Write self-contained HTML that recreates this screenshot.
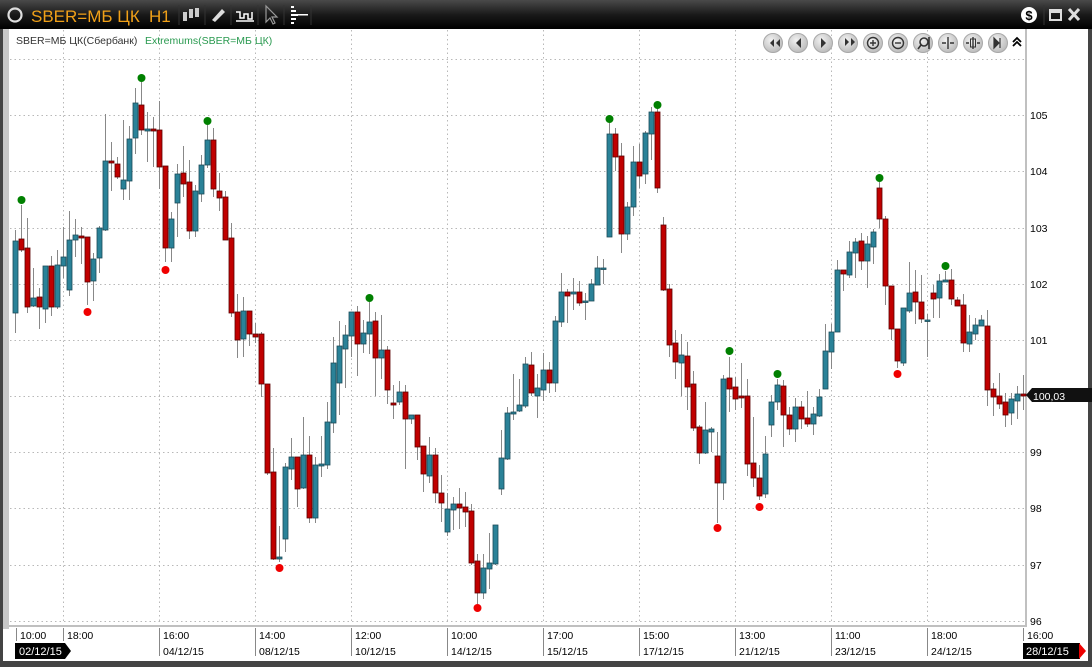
<!DOCTYPE html>
<html><head><meta charset="utf-8"><style>
html,body{margin:0;padding:0;width:1092px;height:667px;overflow:hidden;background:#3a3a3a;}
svg{display:block}
text{font-family:"Liberation Sans","DejaVu Sans",sans-serif;}
</style></head><body>
<svg id="s" width="1092" height="667" xmlns="http://www.w3.org/2000/svg">
<defs>
<linearGradient id="tb" x1="0" y1="0" x2="0" y2="1"><stop offset="0" stop-color="#4a4a4a"/><stop offset="0.5" stop-color="#1a1a1a"/><stop offset="1" stop-color="#000"/></linearGradient>
<radialGradient id="bt" cx="0.4" cy="0.35" r="0.7"><stop offset="0" stop-color="#f2f2f2"/><stop offset="1" stop-color="#b8b8b8"/></radialGradient>
</defs>
<rect x="0" y="0" width="1092" height="667" fill="#444"/>
<rect x="0" y="0" width="1092" height="29" fill="url(#tb)"/>
<circle cx="15" cy="15" r="6.5" fill="none" stroke="#ddd" stroke-width="2.2"/>
<text x="31" y="22" font-size="17" fill="#f0a018">SBER=МБ ЦК</text>
<text x="149" y="22" font-size="17" fill="#f0a018">H1</text>
<g stroke="#333" stroke-width="1"><line x1="179" y1="5" x2="179" y2="25"/><line x1="205" y1="5" x2="205" y2="25"/><line x1="231" y1="5" x2="231" y2="25"/><line x1="258" y1="5" x2="258" y2="25"/><line x1="284" y1="5" x2="284" y2="25"/><line x1="311" y1="5" x2="311" y2="25"/><line x1="1044" y1="5" x2="1044" y2="25"/></g>
<g fill="#ccc"><rect x="183" y="12" width="4" height="9"/><rect x="189" y="9" width="4" height="9"/><rect x="195" y="8" width="4" height="9"/></g>
<path d="M212 20 L222 9 L225 12 L215 22 Z" fill="#ddd"/>
<path d="M236 12 h4 v6 h4 v-4 h4 v5 h4 v-7 M236 21 h18" stroke="#fff" fill="none" stroke-width="1.5"/>
<path d="M266 6 L266 22 L270 18 L273 24 L275 23 L272 17 L277 17 Z" fill="none" stroke="#999" stroke-width="1.2"/>
<g fill="#fff"><rect x="291" y="6" width="3" height="2"/><rect x="291" y="10" width="5" height="2"/><rect x="291" y="14" width="7" height="2"/><rect x="291" y="18" width="5" height="2"/><rect x="291" y="22" width="3" height="2"/><rect x="298" y="14" width="10" height="1.5"/></g>
<circle cx="1029" cy="15" r="8" fill="#fff"/><text x="1029" y="20" font-size="13" font-weight="bold" text-anchor="middle" fill="#000">$</text>
<rect x="1050" y="10" width="11" height="10" fill="none" stroke="#ddd" stroke-width="2"/><rect x="1050" y="10" width="11" height="3" fill="#ddd"/>
<path d="M1069 9 L1079 20 M1079 9 L1069 20" stroke="#ddd" stroke-width="3"/>
<rect x="3" y="29" width="1085" height="632" fill="#fff"/>
<rect x="3" y="29" width="6" height="600" fill="#c8c8c8"/>
<rect x="1025" y="29" width="2" height="598" fill="#c0c0c0"/>
<rect x="9" y="625" width="1016" height="2" fill="#c0c0c0"/>
<g id="grid" stroke="#b8b8b8" stroke-dasharray="1.5,3" stroke-width="1"></g>
<text x="16" y="44" font-size="10.5" fill="#333">SBER=МБ ЦК(Сбербанк)</text>
<text x="145" y="44" font-size="10.5" fill="#2a9a50">Extremums(SBER=МБ ЦК)</text>
<g id="nav"></g>
<path d="M1013 42 l4 -4 l4 4 M1013 46 l4 -4 l4 4" stroke="#000" stroke-width="1.8" fill="none"/>
<g id="c"></g>
<g id="ax" font-size="10.5" fill="#000"></g>
<path d="M1026 395 l6 -7 h60 v14 h-60 z" fill="#111"/>
<text x="1033" y="400" font-size="10.5" fill="#fff">100,03</text>
<path d="M15 643 h50 l6 8 l-6 8 h-50 z" fill="#000"/>
<text x="19" y="655" font-size="11" fill="#fff">02/12/15</text>
<rect x="1023" y="643" width="57" height="16" fill="#000"/>
<path d="M1079 643 l7 8 l-7 8 z" fill="#e00"/>
<text x="1026" y="655" font-size="11" fill="#fff">28/12/15</text>
</svg>
<script>
var NS="http://www.w3.org/2000/svg";
function el(p,t,a,tx){var e=document.createElementNS(NS,t);for(var k in a)e.setAttribute(k,a[k]);if(tx!=null)e.textContent=tx;p.appendChild(e);return e;}
var g=document.getElementById("grid");
[59,115,171,228,284,340,396,452,508,565,621].forEach(function(y){el(g,"line",{x1:10,y1:y+.5,x2:1024,y2:y+.5});});
[63,159,255,351,447,543,639,735,831,927].forEach(function(x){el(g,"line",{x1:x+.5,y1:30,x2:x+.5,y2:624});});
var ax=document.getElementById("ax");
var prices=[[105,115],[104,171],[103,228],[102,284],[101,340],[99,452],[98,508],[97,565],[96,621]];
prices.forEach(function(p){el(ax,"text",{x:1030,y:p[1]+4},String(p[0]));});
var ticks=[[16,"10:00",""],[63,"18:00",""],[159,"16:00","04/12/15"],[255,"14:00","08/12/15"],[351,"12:00","10/12/15"],[447,"10:00","14/12/15"],[543,"17:00","15/12/15"],[639,"15:00","17/12/15"],[735,"13:00","21/12/15"],[831,"11:00","23/12/15"],[927,"18:00","24/12/15"],[1023,"16:00",""]];
ticks.forEach(function(t){el(ax,"line",{x1:t[0]+.5,y1:628,x2:t[0]+.5,y2:t[2]?656:641,stroke:"#888"});el(ax,"text",{x:t[0]+4,y:639},t[1]);if(t[2])el(ax,"text",{x:t[0]+4,y:655},t[2]);});
var nav=document.getElementById("nav");
[773,798,823,848,873,898,923,948,973,998].forEach(function(x){el(nav,"circle",{cx:x,cy:43,r:9.5,fill:"url(#bt)",stroke:"#a8a8a8"});});
var ic=["M770 43 l4-4v8z M776 43 l4-4v8z","M796 43 l5-5v10z","M821 38 l5 5-5 5z","M845 38 l4 4-4 4z M851 38 l4 4-4 4z"];
ic.forEach(function(d){el(nav,"path",{d:d,fill:"#333"});});
el(nav,"circle",{cx:873,cy:43,r:5.5,fill:"none",stroke:"#333","stroke-width":1.4});el(nav,"path",{d:"M870 43h6M873 40v6",stroke:"#333","stroke-width":1.4});
el(nav,"circle",{cx:898,cy:43,r:5.5,fill:"none",stroke:"#333","stroke-width":1.4});el(nav,"path",{d:"M895 43h6",stroke:"#333","stroke-width":1.4});
el(nav,"circle",{cx:924,cy:42,r:4,fill:"none",stroke:"#333","stroke-width":1.6});el(nav,"path",{d:"M921 45l-3 4M929 37v12",stroke:"#333","stroke-width":1.6});
el(nav,"path",{d:"M948 37v12M942 43h4M950 43h4",stroke:"#333","stroke-width":1.4});
el(nav,"path",{d:"M973 37v12M966 43h3M977 43h3",stroke:"#333","stroke-width":1.4});el(nav,"rect",{x:970.5,y:39,width:5,height:8,fill:"none",stroke:"#333"});
el(nav,"path",{d:"M994 38l5 5-5 5z M1000 38v10",fill:"#333",stroke:"#333","stroke-width":1.2});
var D=[
"b241 313 230 333","r239 250 205 252","r248 307 218 313","b298 306 268 307","r297 307 288 329","b266 309 266 323","r266 307 256 316","b265 307 250 309","b257 266 227 278","b240 290 211 296",
"b235 240 219 257","r236 238 227 264","r237 282 237 305","b259 281 253 301","b228 258 226 273","b161 230 114 231","r161 163 142 191","r164 177 157 179","b180 189 120 200","b139 181 126 200",
"b103 138 88 154","r105 130 82 135","b129 131 112 162","r129 131 117 167","r130 167 101 189","r166 248 166 262","b219 248 212 262","b174 203 164 237","r173 184 146 197","r182 231 160 239",
"b191 231 185 237","b165 194 155 202","b140 165 125 168","r140 189 128 197","r191 198 173 211","r197 240 191 240","r238 313 223 317","r312 340 294 358","b311 339 297 357","r311 334 311 346",
"r334 337 323 343","r334 384 332 397","r384 473 384 475","r472 559 448 560","b557 559 526 562","b467 539 463 552","b457 469 438 480","r457 489 457 507","b455 488 417 489","r455 518 436 523",
"b465 518 457 523","b464 466 436 477","b422 465 402 469","b363 423 337 433","b346 383 321 415","b335 349 325 388","b312 336 312 357","r312 344 306 376","b333 344 320 353","b322 334 302 354",
"r321 358 312 396","b350 358 315 379","r350 390 346 404","r403 405 385 419","b392 402 381 405","r392 419 385 469","b415 419 415 424","r415 447 415 460","r446 474 446 492","b455 476 437 483",
"r455 493 448 503","r493 503 475 522","b509 532 493 536","b504 510 497 530","r504 508 488 529","r507 512 492 527","r511 563 504 565","r561 593 554 604","b568 593 554 599","b563 569 533 589",
"b525 564 525 565","b458 489 430 495","b413 459 407 460","b412 414 374 420","b405 411 379 412","b364 406 357 408","r365 393 352 396","b388 396 374 418","b370 390 353 401","r370 383 362 393",
"b321 383 316 392","b292 322 273 327","r292 296 289 323","b292 294 278 310","r292 303 281 306","b301 301 293 320","b284 301 279 301","b268 285 256 285","b268 268 259 284","b134 237 123 237",
"r134 157 128 171","r156 234 143 253","b207 234 202 240","b162 207 146 216","r162 176 144 188","b133 174 131 184","b112 134 107 160","r112 188 108 193","r225 290 217 291","r289 345 284 357",
"r343 362 330 379","b355 363 334 396","r356 387 342 410","r384 428 371 431","r427 453 425 464","b430 453 402 454","b429 432 427 452","r456 483 432 523","b379 483 375 500","r378 389 357 412",
"r387 399 377 410","r396 398 363 408","r396 464 379 476","r463 478 417 487","r478 496 465 500","b454 494 436 498","b402 425 395 437","b385 402 379 410","r386 415 380 447","r415 429 407 435",
"b407 429 398 442","r407 419 401 429","r418 424 391 427","b414 424 407 435","b397 416 389 417","b351 389 324 389","b332 352 324 369","b270 332 260 332","r270 274 270 291","b252 275 241 278",
"b242 253 238 278","r241 261 233 270","b244 261 236 288","b232 247 229 264","r188 219 182 228","r219 286 216 305","r286 329 286 340","r329 361 329 368","b308 363 308 366","b293 311 262 313",
"r292 302 270 324","r302 319 275 323","b320 320 314 357","r293 299 285 318","b281 298 274 318","b280 282 271 282","r280 299 269 305","r300 306 297 306","r305 343 294 352","b332 344 315 352",
"b325 334 318 340","b320 326 315 326","r326 390 310 406","r389 397 383 416","r396 404 373 409","r402 415 393 427","b399 413 393 425","b394 401 386 419","r394 396 375 410"];
var c=document.getElementById("c");
D.forEach(function(s,i){var col=s[0];var v=s.slice(1).split(" ").map(Number);var x=15+6*i;
el(c,"line",{x1:x+.5,y1:v[2],x2:x+.5,y2:v[3],stroke:"#888","stroke-width":1});
var h=Math.max(v[1]-v[0],1.5);
el(c,"rect",{x:x-2,y:v[0],width:5,height:h,fill:col=="b"?"#2a8298":"#c00000",stroke:col=="b"?"#1b4a58":"#5a0000","stroke-width":0.8});});
var G=[[1,200],[21,78],[32,121],[59,298],[99,119],[107,105],[119,351],[127,374],[144,178],[155,266]];
var R=[[12,312],[25,270],[44,568],[77,608],[117,528],[124,507],[147,374]];
G.forEach(function(p){el(c,"circle",{cx:15+6*p[0]+.5,cy:p[1],r:4,fill:"#008000"});});
R.forEach(function(p){el(c,"circle",{cx:15+6*p[0]+.5,cy:p[1],r:4,fill:"#f00000"});});
</script>
</body></html>
